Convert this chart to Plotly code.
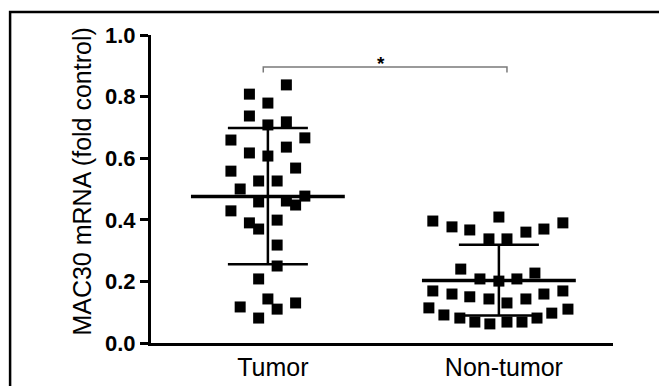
import plotly.graph_objects as go

# ---------------- data ----------------
categories = ["Tumor", "Non-tumor"]

tumor_values = [0.838, 0.808, 0.779, 0.737, 0.708, 0.718, 0.659, 0.666, 0.636, 0.617,
                0.607, 0.558, 0.568, 0.526, 0.526, 0.500, 0.458, 0.461, 0.448, 0.477,
                0.429, 0.399, 0.390, 0.370, 0.318, 0.250, 0.208, 0.143, 0.117, 0.130,
                0.110, 0.081]
tumor_jitter = [0.08, -0.08, 0.0, -0.08, 0.0, 0.08, -0.16, 0.16, 0.08, -0.08,
                0.0, -0.16, 0.12, -0.04, 0.04, -0.12, -0.04, 0.08, 0.12, 0.16,
                -0.16, 0.04, -0.08, -0.04, 0.04, 0.04, -0.04, 0.0, -0.12, 0.12,
                0.04, -0.04]

nontumor_values = [0.396, 0.377, 0.367, 0.409, 0.360, 0.370, 0.390, 0.338, 0.338, 0.240,
                   0.208, 0.201, 0.208, 0.227, 0.169, 0.159, 0.150, 0.143, 0.130, 0.143,
                   0.159, 0.169, 0.114, 0.091, 0.081, 0.068, 0.062, 0.068, 0.068, 0.081,
                   0.097, 0.110]
nontumor_jitter = [-0.286, -0.203, -0.126, 0.0, 0.117, 0.195, 0.277, -0.043, 0.035, -0.165,
                   -0.082, 0.0, 0.078, 0.156, -0.286, -0.203, -0.126, -0.043, 0.035, 0.117,
                   0.195, 0.277, -0.303, -0.238, -0.169, -0.104, -0.039, 0.035, 0.100, 0.165,
                   0.229, 0.299]

means = [0.476, 0.203]
sd_plus = [0.222, 0.116]
sd_minus = [0.220, 0.114]

y_ticks = [0.0, 0.2, 0.4, 0.6, 0.8, 1.0]
y_tick_labels = ["0.0", "0.2", "0.4", "0.6", "0.8", "1.0"]

sig_label = "*"
sig_y = 0.896

FONT = "Liberation Sans, Arial, sans-serif"
MEAN_HALF = 0.333

fig = go.Figure()

# SD error bars
fig.add_trace(go.Scatter(
    x=[0, 1], y=means, mode="markers",
    marker=dict(size=1, color="rgba(0,0,0,0)"),
    error_y=dict(type="data", array=sd_plus, arrayminus=sd_minus, symmetric=False,
                 width=40, thickness=2.5, color="black"),
    showlegend=False, hoverinfo="skip"))

# mean lines
for i, m in enumerate(means):
    fig.add_trace(go.Scatter(
        x=[i - MEAN_HALF, i + MEAN_HALF], y=[m, m], mode="lines",
        line=dict(color="black", width=3.5),
        showlegend=False, hoverinfo="skip"))

# points
fig.add_trace(go.Scatter(
    x=[0 + j for j in tumor_jitter], y=tumor_values, mode="markers",
    marker=dict(symbol="square", size=11, color="black"),
    showlegend=False))
fig.add_trace(go.Scatter(
    x=[1 + j for j in nontumor_jitter], y=nontumor_values, mode="markers",
    marker=dict(symbol="square", size=11, color="black"),
    showlegend=False))

# significance bracket
fig.add_trace(go.Scatter(
    x=[-0.02, -0.02, 1.035, 1.035], y=[sig_y - 0.018, sig_y, sig_y, sig_y - 0.018],
    mode="lines", line=dict(color="#7a7a7a", width=1.5),
    showlegend=False, hoverinfo="skip", cliponaxis=False))

fig.add_annotation(x=0.49, y=sig_y + 0.01, text=sig_label, showarrow=False,
                   yanchor="middle", font=dict(family=FONT, size=19, color="black", weight="bold"))

# y title
fig.add_annotation(xref="paper", yref="paper", x=-0.15, y=0.523,
                   text="MAC30 mRNA (fold control)", textangle=-90, showarrow=False,
                   xanchor="center", yanchor="middle",
                   font=dict(family=FONT, size=25, color="black"))

# frame
fig.add_shape(type="rect", xref="paper", yref="paper",
              x0=-0.305, y0=-0.4, x1=1.4, y1=1.0747,
              line=dict(color="black", width=2.5), layer="below")

fig.update_layout(
    width=659, height=378,
    margin=dict(l=143, r=54, t=27, b=43, pad=0, autoexpand=False),
    paper_bgcolor="white", plot_bgcolor="white",
    xaxis=dict(range=[-0.506, 1.494], tickvals=[0, 1], ticktext=categories,
               showline=True, linewidth=3, linecolor="black", ticks="",
               showgrid=False, zeroline=False, ticklabelshift=5, automargin=False,
               tickfont=dict(family=FONT, size=25, color="black")),
    yaxis=dict(range=[0, 1], tickvals=y_ticks, ticktext=y_tick_labels,
               showline=True, linewidth=3, linecolor="black",
               ticks="outside", ticklen=8, tickwidth=3, tickcolor="black",
               showgrid=False, zeroline=False, automargin=False,
               tickfont=dict(family=FONT, size=22, color="black", weight="bold")),
)

fig.write_html("out.html")
